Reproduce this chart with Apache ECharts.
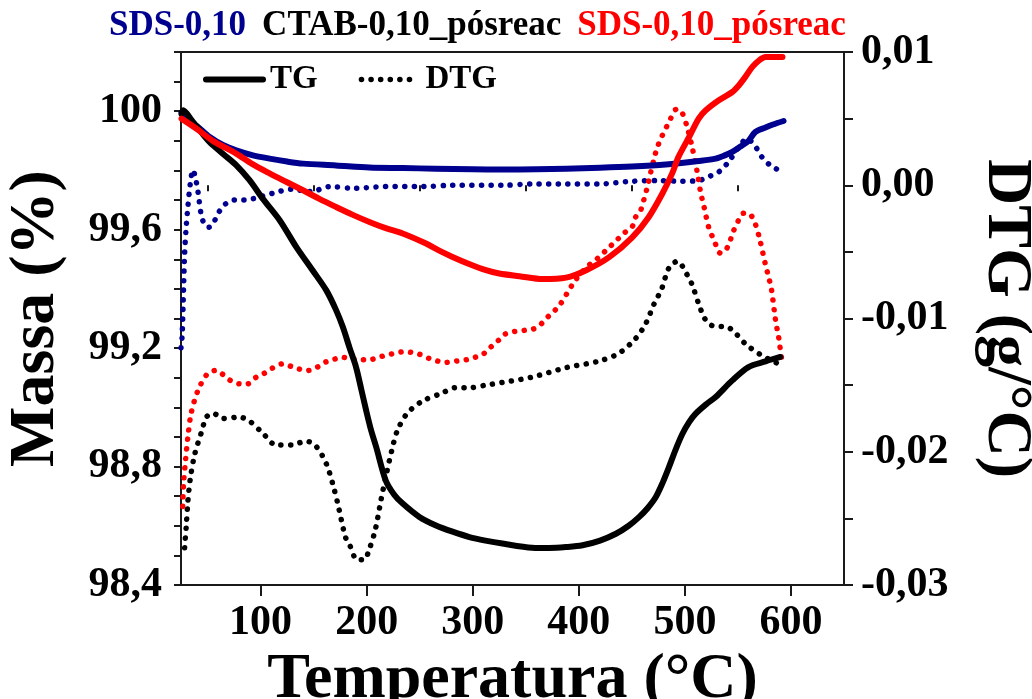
<!DOCTYPE html>
<html>
<head>
<meta charset="utf-8">
<script src="https://cdn.jsdelivr.net/npm/echarts@6/dist/echarts.min.js"></script>
<style>
  html, body { margin: 0; padding: 0; background: #ffffff; }
  #chart { width: 1032px; height: 699px; }
</style>
</head>
<body>
<div id="chart"></div>
<script>
// Samples and their colours
const sampleNames = ['SDS-0,10', 'CTAB-0,10_pósreac', 'SDS-0,10_pósreac'];
const sampleColors = ['#00008f', '#000000', '#ff0000'];

// Temperature axis ticks (°C)
const xMajorTicks = [100, 200, 300, 400, 500, 600];
const xMinorTicks = [50, 150, 250, 350, 450, 550, 650];

// TG curves: [temperature °C, mass %]
const sdsTG = [
  [25.5, 99.995], [30, 99.975], [40, 99.95], [52, 99.913], [65, 99.885], [77, 99.868],
  [92, 99.852], [108.5, 99.84], [125, 99.83], [140, 99.823], [171, 99.817], [202.6, 99.81],
  [234, 99.808], [265, 99.806], [300, 99.804], [328, 99.803], [360, 99.804], [388, 99.806],
  [420, 99.809], [450, 99.813], [482, 99.82], [513, 99.832], [529, 99.84], [537, 99.85],
  [544.7, 99.863], [552, 99.88], [560, 99.9], [566.5, 99.93], [576, 99.945], [583, 99.955], [593, 99.967]
];
const ctabTG = [
  [25.5, 99.99], [27, 100.003], [35, 99.97], [45, 99.925], [52, 99.896], [65, 99.855],
  [77, 99.818], [89.6, 99.767], [102, 99.705], [118, 99.632], [133.6, 99.542], [149, 99.463],
  [162, 99.395], [171, 99.33], [177.5, 99.272], [184, 99.2], [190, 99.136], [195, 99.06],
  [199.5, 98.99], [204, 98.925], [209, 98.866], [218, 98.753], [226, 98.705], [234, 98.675],
  [249.7, 98.63], [265.4, 98.601], [281, 98.58], [296.8, 98.562], [312, 98.55], [328, 98.54],
  [356, 98.526], [372, 98.525], [388, 98.528], [403.5, 98.534], [420, 98.55], [435, 98.573],
  [447, 98.6], [457, 98.63], [465, 98.66], [472.6, 98.697], [479, 98.745], [485, 98.798],
  [491, 98.855], [497.6, 98.91], [504, 98.95], [510, 98.978], [520, 99.01], [529, 99.035],
  [544.7, 99.091], [560, 99.136], [576, 99.155], [590, 99.17]
];
const sdsPosTG = [
  [25.5, 99.975], [40, 99.94], [55, 99.9], [77, 99.857], [92, 99.822], [108.5, 99.79],
  [125, 99.76], [140, 99.733], [155, 99.705], [171, 99.677], [187, 99.65], [202.6, 99.626],
  [218, 99.605], [234, 99.587], [256, 99.553], [268, 99.53], [281, 99.508], [296, 99.485],
  [312.5, 99.463], [325, 99.452], [344, 99.443], [366, 99.433], [388, 99.438], [407, 99.463],
  [429, 99.508], [450.6, 99.575], [466, 99.643], [478.8, 99.722], [488, 99.79], [494, 99.846],
  [504, 99.913], [513, 99.975], [519.7, 100.003], [532, 100.037], [544.7, 100.065], [551, 100.088],
  [557, 100.116], [563.6, 100.15], [570, 100.172], [576, 100.183], [592, 100.183]
];

// DTG curves: [temperature °C, g/°C]
const sdsDTG = [
  [25, -0.0122], [26, -0.0114], [27.4, -0.0077], [28.4, -0.0051], [30, -0.003], [31.5, -0.0016],
  [33.8, 0.00015], [36.3, 0.00115], [38.5, 0.0006], [41, -0.00048], [44, -0.0022], [47, -0.0029],
  [51.3, -0.00315], [55, -0.0029], [61, -0.00198], [67, -0.0014], [75.5, -0.0011], [85, -0.0011],
  [94.4, -0.00098], [111.6, -0.0006], [129, -0.0003], [147.6, -0.00048], [165, -0.0001],
  [187, -0.00023], [218, -0.0001], [252.6, -0.0001], [281, 0], [328, 0], [356, 0.0001],
  [388, 0.0001], [419.6, 0.0001], [450.6, 0.0003], [475.7, 0.00035], [497.6, 0.0003],
  [513, 0.00035], [522.6, 0.00065], [532, 0.001], [541.6, 0.0018], [551, 0.0029], [558.6, 0.0035],
  [566.5, 0.0029], [572.8, 0.0021], [582, 0.0014], [590, 0.0011]
];
const ctabDTG = [
  [28.4, -0.0272], [30, -0.0255], [31.5, -0.0237], [33.8, -0.022], [37.9, -0.0202], [44, -0.0186],
  [49, -0.0174], [55, -0.0171], [64.5, -0.0175], [80, -0.0174], [89.6, -0.0177], [102, -0.0186],
  [114.8, -0.0195], [129, -0.0195], [143, -0.0192], [152.4, -0.0196], [162, -0.0209], [168, -0.0224],
  [172.8, -0.0239], [180, -0.0264], [184, -0.027], [191, -0.0281], [198, -0.0281], [201.7, -0.0275],
  [208, -0.0259], [213.6, -0.0236], [218, -0.0219], [223.7, -0.0199], [229, -0.0184], [238.4, -0.0171],
  [252.6, -0.0162], [271, -0.0156], [283.4, -0.0152], [296.8, -0.0152], [312.5, -0.015], [328, -0.0148],
  [356, -0.0144], [387.5, -0.0137], [419, -0.0132], [438, -0.0126], [453.6, -0.0115], [463, -0.0104],
  [471, -0.0089], [478, -0.0078], [485, -0.0062], [493, -0.0057], [502, -0.0067], [507, -0.0075],
  [513, -0.0089], [518, -0.0099], [522.7, -0.0104], [529, -0.0106], [535, -0.0106], [541.6, -0.0107],
  [547.7, -0.0111], [557, -0.0119], [571, -0.0127], [588, -0.0134]
];
const sdsPosDTG = [
  [26.6, -0.0241], [27.4, -0.0224], [29.3, -0.0206], [31.5, -0.0189], [34.6, -0.0171], [41, -0.0154],
  [50.4, -0.0141], [58.3, -0.0139], [64.5, -0.0142], [72.5, -0.0147], [80.2, -0.0149], [88, -0.0149],
  [96, -0.0144], [103.8, -0.0141], [111.6, -0.0137], [121, -0.0134], [129, -0.0136], [136.7, -0.0138],
  [144.6, -0.0139], [152.4, -0.0137], [160.3, -0.0133], [168, -0.0131], [176.6, -0.0129], [183.8, -0.013],
  [192.6, -0.0131], [202.6, -0.0131], [211.4, -0.0129], [219, -0.01275], [227, -0.0126], [234.6, -0.0125],
  [242.8, -0.01255], [250.3, -0.0127], [259, -0.013], [267, -0.0132], [274, -0.0133], [284, -0.0132],
  [293.7, -0.0131], [302.4, -0.0129], [309.4, -0.0127], [316.2, -0.0122], [323.5, -0.0117], [329.8, -0.0112],
  [337.6, -0.011], [347.6, -0.0109], [356.4, -0.0108], [362, -0.0106], [367, -0.0102], [373, -0.0097],
  [381, -0.0091], [389, -0.0081], [397, -0.0071], [408, -0.0061], [417.5, -0.0055], [425.5, -0.0049],
  [436, -0.0041], [442.5, -0.0036], [450.4, -0.0031], [453.5, -0.0024], [458.2, -0.0019], [461.3, -0.0011],
  [464.4, -0.0002], [467.6, 0.0009], [470.7, 0.0019], [473.8, 0.0028], [478.5, 0.0037], [482.8, 0.0044],
  [486.5, 0.005], [492, 0.0057], [497, 0.0055], [502, 0.0044], [507, 0.0028], [511.6, 0.001],
  [515, -0.0006], [518, -0.0016], [522.6, -0.0032], [527.4, -0.0041], [533.6, -0.0051], [539.8, -0.0047],
  [546, -0.0034], [550.8, -0.0026], [555.4, -0.0021], [561.7, -0.0022], [566.4, -0.0029], [571, -0.0042],
  [575.8, -0.0059], [579, -0.0069], [581.6, -0.0078], [584.4, -0.0095], [586, -0.0104], [588, -0.0112],
  [589.6, -0.0121], [591, -0.0129]
];

const tgSets = [sdsTG, ctabTG, sdsPosTG];
const dtgSets = [sdsDTG, ctabDTG, sdsPosDTG];

const FONT = '"Liberation Serif", "Times New Roman", serif';
const AXIS_COLOR = '#1a1a1a';
const SOLID_WIDTH = 6;
const dotStyle = { width: 5.5, type: [0.1, 9.5], cap: 'round' };

function fmtMass(v) {
  const k = Math.round(v * 10);
  if ((k - 984) % 4 !== 0) return '';
  return k === 1000 ? '100' : (k / 10).toFixed(1).replace('.', ',');
}
function fmtDtg(v) {
  const k = Math.round(v * 1000);
  if (k % 10 !== 0) return '';
  return (k / 1000).toFixed(2).replace('.', ',');
}

const tickLabelStyle = { fontFamily: FONT, fontWeight: 'bold', fontSize: 42, color: '#000' };
const titleStyle = { fontFamily: FONT, fontWeight: 'bold', fontSize: 64, color: '#000' };

const series = [];
tgSets.forEach((d, i) => {
  series.push({
    name: sampleNames[i], type: 'line', xAxisIndex: 0, yAxisIndex: 0,
    data: d, symbol: 'none', smooth: 0.3, z: 3,
    itemStyle: { color: sampleColors[i] },
    lineStyle: { color: sampleColors[i], width: SOLID_WIDTH, cap: 'round', join: 'round' }
  });
});
dtgSets.forEach((d, i) => {
  series.push({
    name: sampleNames[i], type: 'line', xAxisIndex: 0, yAxisIndex: 1,
    data: d, symbol: 'none', smooth: 0.3, z: 2,
    itemStyle: { color: sampleColors[i] },
    lineStyle: Object.assign({ color: sampleColors[i] }, dotStyle)
  });
});
// Line-style key entries
series.push({ name: 'TG', type: 'line', yAxisIndex: 0, data: [], symbol: 'none',
  itemStyle: { color: '#000' }, lineStyle: { color: '#000', width: 6 } });
series.push({ name: 'DTG', type: 'line', yAxisIndex: 1, data: [], symbol: 'none',
  itemStyle: { color: '#000' }, lineStyle: Object.assign({ color: '#000' }, dotStyle) });

const hiddenMarker = { color: 'transparent', borderWidth: 0, opacity: 0 };

const option = {
  backgroundColor: '#ffffff',
  animation: false,
  grid: { left: 181, right: 188, top: 52, bottom: 114, show: true,
          outerBoundsMode: 'none', containLabel: false,
          borderColor: AXIS_COLOR, borderWidth: 2, backgroundColor: 'transparent' },
  legend: [
    {
      left: 104, top: 8, padding: 0, itemWidth: 0, itemHeight: 0, itemGap: 11, icon: 'none',
      selectedMode: false,
      textStyle: { fontFamily: FONT, fontWeight: 'bold', fontSize: 35 },
      data: sampleNames.map((n, i) => ({ name: n, textStyle: { color: sampleColors[i] } }))
    },
    {
      left: 203, top: 63, padding: 0, itemWidth: 57, itemHeight: 14, itemGap: 41, selectedMode: false,
      textStyle: { fontFamily: FONT, fontWeight: 'bold', fontSize: 33, color: '#000', padding: [0, 0, 0, 2] },
      data: [
        { name: 'TG', itemStyle: hiddenMarker, lineStyle: { width: 6, cap: 'round' } },
        { name: 'DTG', itemStyle: hiddenMarker, lineStyle: { width: 5.5, type: [0.1, 9.5], cap: 'round' } }
      ]
    }
  ],
  xAxis: [
    {
      type: 'value', position: 'bottom', min: 25, max: 650,
      axisLine: { show: true, onZero: false, lineStyle: { color: AXIS_COLOR, width: 2 } },
      axisTick: { show: true, customValues: xMajorTicks, length: 11, lineStyle: { color: AXIS_COLOR, width: 2 } },
      axisLabel: Object.assign({ customValues: xMajorTicks, margin: 17 }, tickLabelStyle),
      splitLine: { show: false },
      name: 'Temperatura (°C)', nameLocation: 'middle', nameGap: 48,
      nameTextStyle: titleStyle
    },
    {
      type: 'value', position: 'bottom', min: 25, max: 650,
      axisLine: { show: false },
      axisTick: { show: true, customValues: xMinorTicks, length: 6, lineStyle: { color: AXIS_COLOR, width: 2 } },
      axisLabel: { show: false },
      splitLine: { show: false }
    }
  ],
  yAxis: [
    {
      type: 'value', position: 'left', min: 98.4, max: 100.2, interval: 0.1,
      axisLine: { show: true, onZero: false, lineStyle: { color: AXIS_COLOR, width: 2 } },
      axisTick: { show: true, length: 7, lineStyle: { color: AXIS_COLOR, width: 2 } },
      axisLabel: Object.assign({ formatter: fmtMass, margin: 19 }, tickLabelStyle),
      splitLine: { show: false },
      name: 'Massa (%)', nameLocation: 'middle', nameGap: 113,
      nameTextStyle: titleStyle
    },
    {
      type: 'value', position: 'right', min: -0.03, max: 0.01, interval: 0.005,
      axisLine: { show: true, onZero: false, lineStyle: { color: AXIS_COLOR, width: 2 } },
      axisTick: { show: true, length: 9, lineStyle: { color: AXIS_COLOR, width: 2 } },
      axisLabel: Object.assign({ formatter: fmtDtg, margin: 17 }, tickLabelStyle),
      splitLine: { show: false },
      name: 'DTG (g/°C)', nameLocation: 'middle', nameGap: 130, nameRotate: -90,
      nameTextStyle: titleStyle
    }
  ],
  series: series
};

const chart = echarts.init(document.getElementById('chart'), null, { renderer: 'canvas' });
chart.setOption(option);
</script>
</body>
</html>
